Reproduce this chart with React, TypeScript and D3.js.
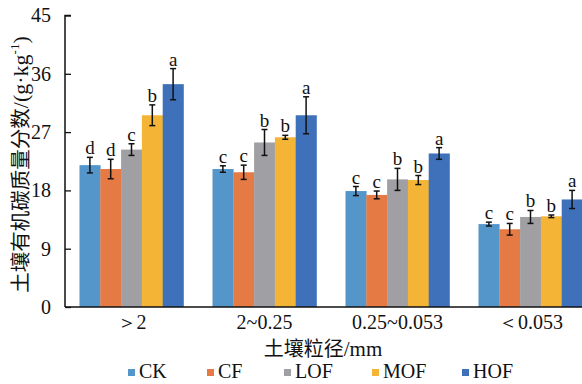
import React, { useEffect, useRef } from "react";
import * as d3 from "d3";

const categories = [">2", "2~0.25", "0.25~0.053", "<0.053"];
const catLabels = ["＞2", "2~0.25", "0.25~0.053", "＜0.053"];
const series = ["CK", "CF", "LOF", "MOF", "HOF"];
const colors = ["#5596CA", "#E57A44", "#A0A0A4", "#F4B536", "#3F71BB"];

// mean values, per series, in category order
const CK = [21.9, 21.3, 17.9, 12.8];
const CF = [21.3, 20.8, 17.3, 12.0];
const LOF = [24.3, 25.4, 19.7, 13.9];
const MOF = [29.6, 26.2, 19.6, 14.0];
const HOF = [34.4, 29.6, 23.7, 16.6];

const CKerr = [1.2, 0.5, 0.7, 0.3];
const CFerr = [1.5, 1.1, 0.6, 0.9];
const LOFerr = [0.9, 2.0, 1.7, 1.0];
const MOFerr = [1.6, 0.3, 0.7, 0.2];
const HOFerr = [2.4, 2.85, 0.9, 1.4];

const CKsig = ["d", "c", "c", "c"];
const CFsig = ["d", "c", "c", "c"];
const LOFsig = ["c", "b", "b", "b"];
const MOFsig = ["b", "b", "b", "b"];
const HOFsig = ["a", "a", "a", "a"];

const yTicks = [0, 9, 18, 27, 36, 45];

const values = [CK, CF, LOF, MOF, HOF];
const errs = [CKerr, CFerr, LOFerr, MOFerr, HOFerr];
const sigs = [CKsig, CFsig, LOFsig, MOFsig, HOFsig];

const App = () => {
  const ref = useRef<SVGSVGElement>(null);

  useEffect(() => {
    const svg = d3.select(ref.current);
    svg.selectAll("*").remove();

    const width = 582;
    const left = 65;
    const top = 15.5;
    const bottom = 307;
    const font = "'Liberation Serif', 'Times New Roman', serif";
    const cjk = "'Noto Sans CJK SC', 'Liberation Serif', serif";

    const y = d3.scaleLinear().domain([0, 45]).range([bottom, top]);
    const x = d3
      .scaleBand()
      .domain(categories)
      .range([left, left + 532])
      .paddingInner(0.218)
      .paddingOuter(0.109);
    const xs = d3.scaleBand().domain(series).range([0, x.bandwidth()]);

    const data = categories.flatMap((c, ci) =>
      series.map((s, si) => ({
        cat: c,
        ser: s,
        v: values[si][ci],
        e: errs[si][ci],
        sig: sigs[si][ci],
        color: colors[si],
      }))
    );

    const g = svg.append("g");

    g.selectAll("rect.bar")
      .data(data)
      .enter()
      .append("rect")
      .attr("class", "bar")
      .attr("x", (d) => x(d.cat)! + xs(d.ser)!)
      .attr("y", (d) => y(d.v))
      .attr("width", xs.bandwidth() + 0.3)
      .attr("height", (d) => y(0) - y(d.v))
      .attr("fill", (d) => d.color);

    // error bars
    const eb = g.selectAll("g.err").data(data).enter().append("g").attr("class", "err");
    const cx = (d: any) => x(d.cat)! + xs(d.ser)! + xs.bandwidth() / 2;
    eb.append("line")
      .attr("x1", cx)
      .attr("x2", cx)
      .attr("y1", (d) => y(d.v + d.e))
      .attr("y2", (d) => y(d.v - d.e))
      .attr("stroke", "#111")
      .attr("stroke-width", 1.5);
    [1, -1].forEach((k) => {
      eb.append("line")
        .attr("x1", (d) => cx(d) - 3)
        .attr("x2", (d) => cx(d) + 3)
        .attr("y1", (d) => y(d.v + k * d.e))
        .attr("y2", (d) => y(d.v + k * d.e))
        .attr("stroke", "#111")
        .attr("stroke-width", 1.5);
    });
    eb.append("text")
      .attr("x", cx)
      .attr("y", (d) => y(d.v + d.e) - 3)
      .attr("text-anchor", "middle")
      .attr("font-family", font)
      .attr("font-size", 19)
      .attr("fill", "#111")
      .text((d) => d.sig);

    // y axis
    const yAxis = g
      .append("g")
      .attr("transform", `translate(${left},0)`)
      .call(d3.axisRight(y).tickValues(yTicks).tickSize(6).tickFormat(d3.format("d")));
    yAxis.select(".domain").attr("stroke", "#111").attr("stroke-width", 1.5)
      .attr("d", `M6,${top}H0V${bottom}`);
    yAxis.selectAll(".tick line").attr("stroke", "#111").attr("stroke-width", 1.3);
    yAxis
      .selectAll(".tick text")
      .attr("x", -14)
      .attr("text-anchor", "end")
      .attr("font-family", font)
      .attr("font-size", 20)
      .attr("fill", "#111");

    // x axis
    const xAxis = g
      .append("g")
      .attr("transform", `translate(0,${bottom})`)
      .call(d3.axisBottom(x).tickSize(0).tickFormat((d, i) => catLabels[i]));
    xAxis.select(".domain").attr("stroke", "#111").attr("stroke-width", 1.5)
      .attr("d", `M${left},0H${width}`);
    xAxis
      .selectAll(".tick text")
      .attr("y", 8)
      .attr("font-family", font)
      .attr("font-size", 20)
      .attr("fill", "#111");

    // axis titles
    svg
      .append("text")
      .attr("transform", `translate(28,164.5) rotate(-90)`)
      .attr("text-anchor", "middle")
      .attr("font-family", font)
      .attr("font-size", 22)
      .attr("fill", "#111")
      .call((t) => {
        t.append("tspan").attr("font-family", cjk).attr("font-size", 20.5).text("土壤有机碳质量分数");
        t.append("tspan").text("/(g·kg");
        t.append("tspan").attr("font-size", 13).attr("dy", -9).text("-1");
        t.append("tspan").attr("dy", 9).text(")");
      });

    svg
      .append("text")
      .attr("x", 323)
      .attr("y", 356)
      .attr("text-anchor", "middle")
      .attr("font-family", font)
      .attr("font-size", 21)
      .attr("fill", "#111")
      .call((t) => {
        t.append("tspan").attr("font-family", cjk).attr("font-size", 20).text("土壤粒径");
        t.append("tspan").text("/mm");
      });

    // legend
    const legendX = [128, 207, 284, 372, 462];
    const lg = svg
      .selectAll("g.leg")
      .data(series)
      .enter()
      .append("g")
      .attr("class", "leg")
      .attr("transform", (d, i) => `translate(${legendX[i]},369)`);
    lg.append("rect").attr("width", 7).attr("height", 7).attr("fill", (d, i) => colors[i]);
    lg.append("text")
      .attr("x", 11)
      .attr("y", 9)
      .attr("font-family", font)
      .attr("font-size", 20)
      .attr("fill", "#111")
      .text((d) => d);
  }, []);

  return (
    <svg
      ref={ref}
      width={582}
      height={384}
      style={{ position: "absolute", left: 0, top: 0, background: "#fff" }}
    />
  );
};

export default App;
